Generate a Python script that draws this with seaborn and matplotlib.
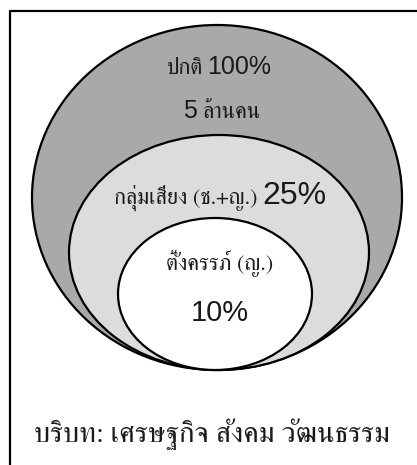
import matplotlib
matplotlib.use("Agg")
import matplotlib.pyplot as plt
from matplotlib.patches import Ellipse
import seaborn as sns

# ---- data ----
group_labels = ["ปกติ", "กลุ่มเสี่ยง (ช.+ญ.)", "ตั้งครรภ์ (ญ.)"]
group_pcts = [100, 25, 10]
population_label = "5 ล้านคน"
context_label = "บริบท: เศรษฐกิจ สังคม วัฒนธรรม"

# ---- styles ----
sns.set_theme(style="white")
THAI = ["FreeSerif", "DejaVu Sans"]
NUM = ["Liberation Sans", "DejaVu Sans"]
fill_colors = ["#a9a9a9", "#dcdcdc", "#ffffff"]
# ellipse geometry in pixels: (cx, cy, width, height)
geoms = [(217, 197.5, 370, 345), (219, 252.5, 300, 235), (215, 294, 194, 152)]

W, H = 417, 465
fig = plt.figure(figsize=(W / 100, H / 100), dpi=100)
ax = fig.add_axes([0, 0, 1, 1])
ax.set_xlim(0, W)
ax.set_ylim(H, 0)
ax.axis("off")

# frame (left + top visible, rest beyond image)
ax.plot([10, 10, W + 5], [H + 5, 11, 11], color="black", lw=1.6, solid_capstyle="projecting")

for (cx, cy, w, h), col in zip(geoms, fill_colors):
    ax.add_patch(Ellipse((cx, cy), w, h, facecolor=col, edgecolor="black", lw=1.6))

renderer = fig.canvas.get_renderer()


def group_text(cx, y, parts, gap=4):
    arts = []
    for s, fam, size in parts:
        arts.append(ax.text(0, y, s, family=fam, fontsize=size, ha="left", va="baseline", color="#1a1a1a"))
    widths = []
    inv = ax.transData.inverted()
    for a in arts:
        bb = a.get_window_extent(renderer)
        x0 = inv.transform((bb.x0, 0))[0]
        x1 = inv.transform((bb.x1, 0))[0]
        widths.append(x1 - x0)
    total = sum(widths) + gap * (len(arts) - 1)
    x = cx - total / 2
    for a, w in zip(arts, widths):
        a.set_x(x)
        x += w + gap
    return arts


group_text(219, 74.5, [(group_labels[0], THAI, 16), (f"{group_pcts[0]}%", NUM, 18)])
group_text(222, 118, [("5", NUM, 18), (population_label.split(" ", 1)[1], THAI, 16)], gap=5)
group_text(220, 204, [(group_labels[1], THAI, 16), (f"{group_pcts[1]}%", NUM, 23)], gap=5)
group_text(220, 270, [(group_labels[2], THAI, 16)])
group_text(220, 321, [(f"{group_pcts[2]}%", NUM, 21)])
group_text(212, 442, [(context_label, THAI, 21)])

fig.savefig("out.png", dpi=100)
